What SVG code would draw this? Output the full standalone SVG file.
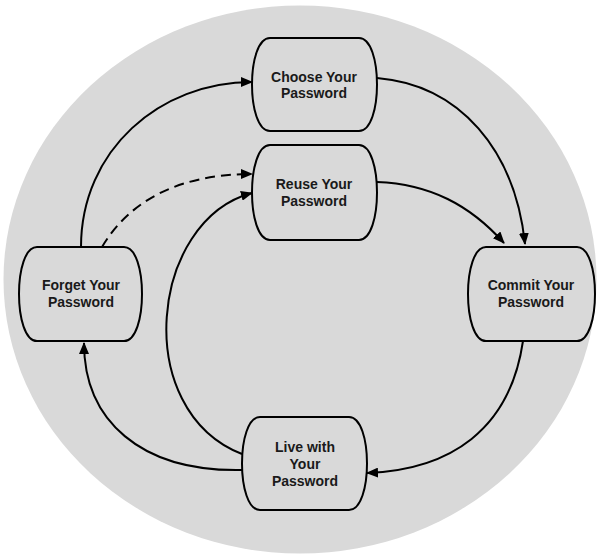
<svg xmlns="http://www.w3.org/2000/svg" width="598" height="557" viewBox="0 0 598 557">
<style>
.node{fill:#d9d9d9;stroke:#000;stroke-width:2}
.lbl{font-family:"Liberation Sans",Arial,sans-serif;font-weight:bold;font-size:14px;fill:#1a1a1a;text-anchor:middle}
.edge{fill:none;stroke:#000;stroke-width:2;marker-end:url(#ah)}
.dash{stroke-dasharray:10,6}
</style>
<defs>
<marker id="ah" markerUnits="userSpaceOnUse" markerWidth="12" markerHeight="10" viewBox="0 0 12 10" refX="11" refY="5" orient="auto">
<path d="M0,0 L12,5 L0,10 Z" fill="#000"/>
</marker>
</defs>
<ellipse cx="300" cy="279.5" rx="296.5" ry="274" fill="#d9d9d9"/>
<g id="connectors">
<path class="edge" d="M81,247 C81,150 160,82 252,82"/>
<path class="edge dash" d="M102,247 C130,200 180,174 252,174"/>
<path class="edge" d="M242,454 C130,410 150,220 252,193"/>
<path class="edge" d="M377,78 C460,85 515,150 525,244"/>
<path class="edge" d="M377,182 C430,184 470,205 504,243"/>
<path class="edge" d="M523,341 C510,430 450,470 367,473"/>
<path class="edge" d="M242,470 C140,472 84,420 84,343"/>
</g>
<g id="choose">
<path class="node" d="M270,38 H359 C383,38 383,131 359,131 H270 C246,131 246,38 270,38 Z"/>
<text class="lbl" x="314" y="82">Choose Your</text>
<text class="lbl" x="314" y="98">Password</text>
</g>
<g id="reuse">
<path class="node" d="M270,145 H359 C383,145 383,240 359,240 H270 C246,240 246,145 270,145 Z"/>
<text class="lbl" x="314" y="189">Reuse Your</text>
<text class="lbl" x="314" y="206">Password</text>
</g>
<g id="forget">
<path class="node" d="M37,247 H124 C148,247 148,341 124,341 H37 C13,341 13,247 37,247 Z"/>
<text class="lbl" x="81" y="290">Forget Your</text>
<text class="lbl" x="81" y="307">Password</text>
</g>
<g id="commit">
<path class="node" d="M486,247 H577 C601,247 601,341 577,341 H486 C462,341 462,247 486,247 Z"/>
<text class="lbl" x="531" y="290">Commit Your</text>
<text class="lbl" x="531" y="307">Password</text>
</g>
<g id="live">
<path class="node" d="M260,417 H349 C373,417 373,510 349,510 H260 C236,510 236,417 260,417 Z"/>
<text class="lbl" x="305" y="452">Live with</text>
<text class="lbl" x="305" y="469">Your</text>
<text class="lbl" x="305" y="486">Password</text>
</g>
</svg>
